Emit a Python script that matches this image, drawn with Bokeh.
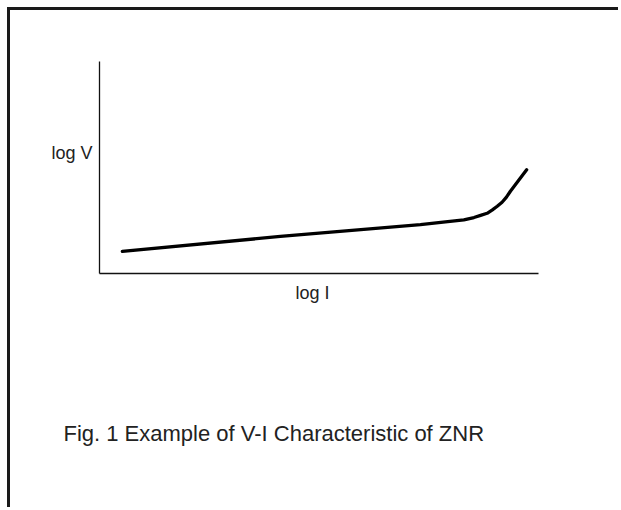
from bokeh.plotting import figure
from bokeh.models import Range1d, LinearAxis, FixedTicker
from bokeh.embed import file_html
from bokeh.resources import INLINE

# Data (arbitrary log scale units)
log_i = [5.2, 41.2, 73.1, 78.8, 83.0, 85.3, 86.8, 88.3, 89.5, 90.6, 91.7, 92.7, 93.6, 97.3]
log_v = [10.4, 17.5, 23.1, 24.4, 25.3, 26.4, 27.4, 28.4, 30.0, 31.7, 33.6, 36.0, 38.8, 48.9]

x_label = "log I"
y_label = "log V"
caption = "Fig. 1 Example of V-I Characteristic of ZNR"

W, H = 611, 500
p = figure(width=W, height=H, output_backend="svg", toolbar_location=None,
           x_range=Range1d(0, 100), y_range=Range1d(0, 100),
           min_border_left=89, min_border_right=W - 528,
           min_border_top=51, min_border_bottom=H - 263)
p.styles = {"margin-left": "7px", "margin-top": "7px",
            "border-top": "3px solid #1a1a1a", "border-left": "3px solid #1a1a1a"}
p.outline_line_color = None
p.grid.visible = False
p.background_fill_color = "white"
p.border_fill_color = "white"

font = "Liberation Sans"

def style_axis(ax, size):
    ax.major_tick_line_color = None
    ax.minor_tick_line_color = None
    ax.major_tick_in = 0
    ax.major_tick_out = 0
    ax.major_label_text_font = font
    ax.major_label_text_font_size = size
    ax.major_label_text_color = "#222"
    ax.axis_line_color = "#111"
    ax.axis_line_width = 1.3

xa = p.xaxis[0]
ya = p.yaxis[0]
style_axis(xa, "18px")
style_axis(ya, "18px")
xa.ticker = FixedTicker(ticks=[48.5])
xa.major_label_overrides = {48.5: x_label}
xa.major_label_standoff = 9
ya.ticker = FixedTicker(ticks=[57])
ya.major_label_overrides = {57: y_label}
ya.major_label_standoff = 7
ya.major_label_orientation = "horizontal"

cap_axis = LinearAxis(ticker=FixedTicker(ticks=[39.7]),
                      major_label_overrides={39.7: caption})
style_axis(cap_axis, "22px")
cap_axis.axis_line_color = None
cap_axis.major_label_standoff = 115
p.add_layout(cap_axis, "below")

p.line(log_i, log_v, line_width=3.3, line_color="black",
       line_join="round", line_cap="round")

open("out.html", "w").write(file_html(p, INLINE))
